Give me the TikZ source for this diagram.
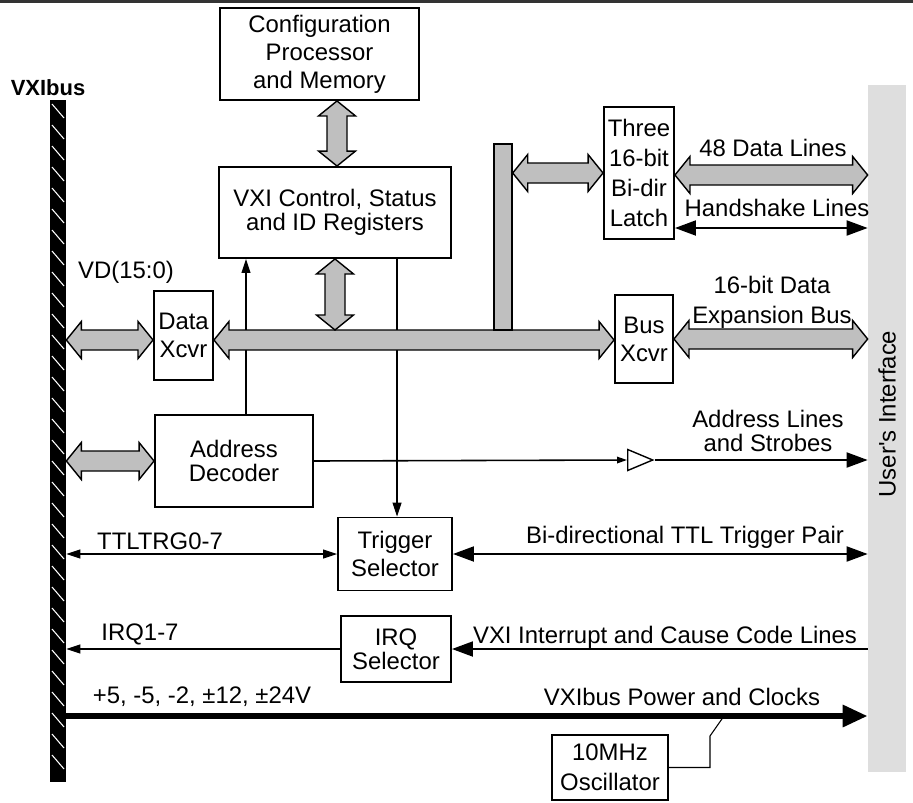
\documentclass[tikz,border=0pt]{standalone}
\usepackage{fontspec}
\setmainfont{Liberation Sans}
\usetikzlibrary{arrows.meta, positioning, shapes.geometric, calc}
\usepackage{xcolor}

\definecolor{busgray}{gray}{0.75}
\definecolor{panelgray}{gray}{0.87}

\tikzset{
  blk/.style={draw, line width=1.1pt, align=center, inner sep=1pt},
  tight/.style={font=\fontsize{13.6}{13.6}\selectfont},
  loose/.style={font=\fontsize{13.6}{17}\selectfont},
  sig/.style={line width=0.6pt},
  wire/.style={line width=1.1pt},
  bus/.style={draw, line width=0.8pt, fill=busgray},
  bigtri/.tip={Triangle[length=0.42cm, width=0.3cm]},
  pwrtri/.tip={Triangle[length=0.5cm, width=0.42cm]},
  tinytri/.tip={Triangle[length=0.2cm, width=0.13cm]},
}

% fat grey double arrow between two points
\newcommand{\fahead}{0.3cm}
\newcommand{\fawide}{0.37cm}
\newcommand{\fashaft}{0.2cm}
\newcommand{\fatarrow}[2]{%
  \path (#1) coordinate (fa-s) (#2) coordinate (fa-t);
  \path ($(fa-s)!\fahead!(fa-t)$) coordinate (fa-a)
        ($(fa-t)!\fahead!(fa-s)$) coordinate (fa-b);
  \filldraw[bus] (fa-s) -- ($(fa-a)!\fawide!90:(fa-t)$) -- ($(fa-a)!\fashaft!90:(fa-t)$)
    -- ($(fa-b)!\fashaft!-90:(fa-s)$) -- ($(fa-b)!\fawide!-90:(fa-s)$) -- (fa-t)
    -- ($(fa-b)!\fawide!90:(fa-s)$) -- ($(fa-b)!\fashaft!90:(fa-s)$)
    -- ($(fa-a)!\fashaft!-90:(fa-t)$) -- ($(fa-a)!\fawide!-90:(fa-t)$) -- cycle;}

\begin{document}
\begin{tikzpicture}[x=0.02cm, y=-0.02cm, font=\fontsize{13.6}{16}\selectfont,
    >={Triangle[length=0.28cm, width=0.18cm]}]
    \useasboundingbox (0,0) rectangle (913,802);
    \draw[line width=0.06cm, black!80] (0,1.5) -- (913,1.5);

    % VXIbus backplane
    \node[font=\fontsize{12.5}{15}\selectfont\bfseries] (vxilabel) at (48,88) {VXIbus};
    \node[fill=black, minimum width=0.32cm, minimum height=13.64cm, inner sep=0] (vxibar) at (58,441) {};
    \foreach \y in {104,125,...,764}
        \draw[white, line width=0.6pt] (52,\y) -- (64,\y+14);

    % user's interface side
    \node[fill=panelgray, minimum width=0.76cm, minimum height=13.74cm, inner sep=0] (uiface) at (887,428.5) {};
    \node[rotate=90] (uilabel) at (887,414) {User\textquotesingle s Interface};

    % blocks
    \node[blk, minimum width=3.98cm, minimum height=1.84cm] (config) at (319.5,54) {Configuration\\Processor\\and Memory};
    \node[blk, tight, minimum width=4.64cm, minimum height=1.82cm] (regs) at (335,212.5) {VXI Control, Status\\and ID Registers};
    \node[blk, minimum width=1.18cm, minimum height=1.78cm] (datax) at (183.5,335.5) {Data\\Xcvr};
    \node[blk, tight, minimum width=3.16cm, minimum height=1.84cm] (addr) at (234,461) {Address\\Decoder};
    \node[blk, minimum width=2.28cm, minimum height=1.46cm] (trig) at (395,554) {Trigger\\Selector};
    \node[blk, tight, minimum width=2.2cm, minimum height=1.32cm] (irq) at (396,649) {IRQ\\Selector};
    \node[blk, loose, minimum width=1.4cm, minimum height=2.64cm] (latch) at (639,173) {Three\\16-bit\\Bi-dir\\Latch};
    \node[blk, minimum width=1.16cm, minimum height=1.76cm] (busx) at (644,339) {Bus\\Xcvr};
    \node[blk, loose, minimum width=2.32cm, minimum height=1.3cm] (osc) at (610,767.5) {10MHz\\Oscillator};
    \node[isosceles triangle, draw, line width=0.8pt, minimum width=0.42cm, minimum height=0.5cm,
          isosceles triangle stretches, inner sep=0, anchor=west] (buf) at (627,460) {};

    % register access lines (behind the bus)
    \coordinate (upx) at (246,0);
    \coordinate (dnx) at (397,0);
    \draw[sig, ->] (upx |- addr.north) -- (upx |- regs.south);
    \draw[sig, ->] (dnx |- regs.south) -- (dnx |- trig.north);

    % internal data bus
    \coordinate (busy) at (0,340);
    \coordinate (datay) at (0,175);
    \coordinate (cfgx) at (337,0);
    \coordinate (regx) at (335,0);
    \fatarrow{vxibar.east |- busy}{datax.west |- busy}
    \fatarrow{datax.east |- busy}{busx.west |- busy}
    \node[bus, minimum width=0.36cm, minimum height=3.72cm, inner sep=0] (stub) at (503,237) {};
    \fatarrow{cfgx |- config.south}{cfgx |- regs.north}
    \fatarrow{regx |- regs.south}{$(regx |- busy)+(0,-10)$}
    \fatarrow{vxibar.east |- addr}{addr.west}
    \fatarrow{stub.east |- latch}{latch.west}
    \fatarrow{latch.east |- datay}{uiface.west |- datay}
    \fatarrow{busx.east}{uiface.west |- busx}

    % handshake
    \coordinate (hsy) at (0,228);
    \draw[wire, bigtri-bigtri] (latch.east |- hsy) -- (uiface.west |- hsy);

    % address lines
    \draw[line width=0.9pt, -tinytri] (addr.east) -- (buf.west);
    \draw[wire, -bigtri] (buf.apex) -- (uiface.west |- buf.apex);

    % triggers
    \draw[sig, <->] (vxibar.east |- trig) -- (trig.west);
    \draw[wire, bigtri-bigtri] (trig.east) -- (uiface.west |- trig);

    % interrupts
    \draw[wire, -bigtri] (uiface.west |- irq) -- (irq.east);
    \draw[sig, ->] (irq.west) -- (vxibar.east |- irq);

    % power and clocks
    \coordinate (pwry) at (0,716);
    \coordinate (tap) at (724,716);
    \draw[line width=0.12cm, -pwrtri] (vxibar.east |- pwry) -- (uiface.west |- pwry);
    \draw[sig] (osc.east) -| (710,736) -- (tap);

    % labels
    \node (vdlbl) at (126,272) {VD(15:0)};
    \node (ttllbl) at (160,541) {TTLTRG0-7};
    \node (irqlbl) at (140,634) {IRQ1-7};
    \node (pwrlbl) at (202,697) {+5, -5, -2, ±12, ±24V};
    \node (pwrclk) at (682,697) {VXIbus Power and Clocks};
    \node (dllbl) at (773,148) {48 Data Lines};
    \node (hslbl) at (777,208) {Handshake Lines};
    \node[loose, align=center] (explbl) at (772,302) {16-bit Data\\Expansion Bus};
    \node[tight, align=center] (adrlbl) at (768,431) {Address Lines\\and Strobes};
    \node (bidirlbl) at (685,537) {Bi-directional TTL Trigger Pair};
    \node (intlbl) at (665,637) {VXI Interrupt and Cause Code Lines};
\end{tikzpicture}
\end{document}
